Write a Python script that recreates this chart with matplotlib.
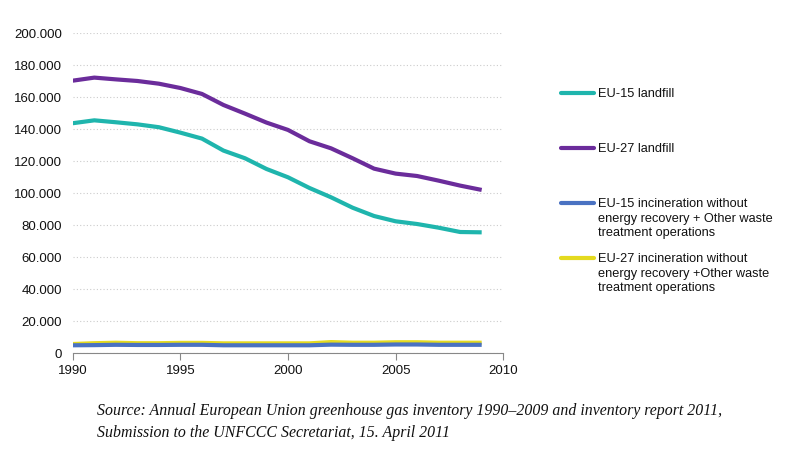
import matplotlib
matplotlib.use("Agg")
import matplotlib.pyplot as plt
from matplotlib.lines import Line2D
from matplotlib.ticker import FuncFormatter

years = list(range(1990, 2010))
eu15_landfill = [143.8, 145.6, 144.4, 143.1, 141.3, 137.9, 134.2, 126.7, 121.9, 115.2,
                 110.0, 103.3, 97.5, 91.0, 85.8, 82.5, 80.8, 78.5, 75.8, 75.6]
eu27_landfill = [170.4, 172.3, 171.2, 170.2, 168.5, 165.8, 162.1, 155.2, 149.8, 144.2,
                 139.6, 132.5, 128.1, 121.9, 115.4, 112.3, 110.8, 107.9, 104.8, 102.1]
eu15_incin = [5.0, 5.1, 5.3, 5.2, 5.2, 5.3, 5.3, 5.0, 5.0, 5.0,
              5.0, 5.0, 5.4, 5.3, 5.3, 5.5, 5.5, 5.3, 5.3, 5.3]
eu27_incin = [5.8, 6.3, 6.6, 6.3, 6.3, 6.5, 6.5, 6.2, 6.2, 6.2,
              6.2, 6.2, 7.0, 6.6, 6.6, 6.9, 6.9, 6.6, 6.6, 6.6]
labels = ["EU-15 landfill", "EU-27 landfill",
          "EU-15 incineration without\nenergy recovery + Other waste\ntreatment operations",
          "EU-27 incineration without\nenergy recovery +Other waste\ntreatment operations"]
colors = ["#1fb5ad", "#6b2c9b", "#4a72c2", "#e4da1f"]
yticks = [0, 20000, 40000, 60000, 80000, 100000, 120000, 140000, 160000, 180000, 200000]
xticks = [1990, 1995, 2000, 2005, 2010]
source = ("Source: Annual European Union greenhouse gas inventory 1990\u20132009 and inventory report 2011,\n"
          "Submission to the UNFCCC Secretariat, 15. April 2011")

plt.rcParams['font.family'] = ['Liberation Sans', 'DejaVu Sans']
W, H = 800, 467
fig = plt.figure(figsize=(8, 4.67), dpi=100)
ax = fig.add_axes([0.091, 0.2435, 0.538, 0.6852])

series = [eu15_landfill, eu27_landfill, eu15_incin, eu27_incin]
for i in [3, 2, 0, 1]:
    vals = [v * 1000 for v in series[i]]
    ax.plot(years, vals, color=colors[i], lw=3, solid_capstyle='butt', solid_joinstyle='round')

ax.set_xlim(1990, 2010)
ax.set_ylim(0, 200000)
ax.set_yticks(yticks)
ax.set_xticks(xticks)
ax.yaxis.set_major_formatter(FuncFormatter(lambda v, p: "0" if v == 0 else f"{int(v):,}".replace(",", ".")))
ax.grid(axis='y', color='#cccccc', linestyle=(0, (1, 2)), lw=0.8)
ax.set_axisbelow(True)
for s in ['top', 'right', 'left']:
    ax.spines[s].set_visible(False)
ax.spines['bottom'].set_color('#888888')
ax.tick_params(axis='y', length=0, labelsize=9.5, pad=8, colors='#111111')
ax.tick_params(axis='x', length=5, color='#888888', labelsize=9.5, colors='#111111', direction='out')

# legend, drawn manually (handle aligned with first text line)
leg_y = [93, 148, 203, 258]
for i in range(4):
    yf = 1 - leg_y[i] / H
    fig.add_artist(Line2D([561 / W, 594 / W], [yf, yf], transform=fig.transFigure,
                          color=colors[i], lw=3, solid_capstyle='round'))
    fig.text(598 / W, yf + 5 / H, labels[i], fontsize=9.2, va='top', ha='left',
             color='#111111', linespacing=1.28)

fig.text(97 / W, 1 - 403 / H, source, fontsize=11.4, family=['Liberation Serif', 'DejaVu Serif'],
         style='italic', va='top', ha='left', linespacing=1.5, color='#111111')

fig.savefig("out.png", dpi=100)
